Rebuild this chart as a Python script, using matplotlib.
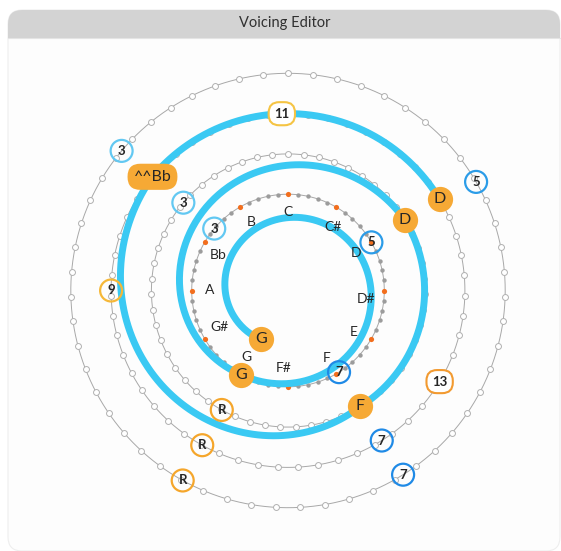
import numpy as np
import matplotlib
matplotlib.use('Agg')
import matplotlib.pyplot as plt
from matplotlib.patches import FancyBboxPatch, Rectangle

# --- Canvas (pixels) ---
W, H = 561, 551
DPI = 100
CX, CY = 288, 290.5      # centre of the wheel
RMAX = 240               # polar axes radius in px
R0, STEP = 56, 40.3      # radius of level 0 and spacing between octave rings
FONT = 'Lato'

# --- Data ---
PITCH_NAMES = ['C', 'C#', 'D', 'D#', 'E', 'F', 'F#', 'G', 'G#', 'A', 'Bb', 'B']
PITCH_ANGLES = [0, 35, 61, 96, 122, 150, 183, 212, 242, 270, 297, 332]

RING_LEVELS = [1, 2, 3, 4]
RING_DOTS = [60, 55, 55, 55]

# voicing notes along the spiral (angle unwrapped, clockwise from C)
NOTE_LABELS = ['G', 'G', 'D', 'F', '^^Bb', 'D']
NOTE_ANGLES = [209, 569, 779, 868, 1030, 1139]
NOTE_LEVELS = [0, 1, 2, 2, 3, 3]

# interval markers sitting on the rings
MARK_LEVELS = [1, 1, 1, 2, 2, 3, 3, 3, 3, 3, 4, 4, 4, 4]
MARK_LABELS = ['3', '5', '7', '3', 'R', '11', '9', '13', 'R', '7', '3', '5', '7', 'R']
MARK_ANGLES = [310, 60, 148, 310, 209, 358, 270, 121, 209, 148, 310, 60, 148, 209]

MARK_COLORS = {'3': '#62c8f2', '5': '#2b9ce8', '7': '#1f8ae6', 'R': '#f5a62b',
               '9': '#f6b838', '11': '#f5c444', '13': '#f29a30'}
CYAN = '#3ac9f3'
ORANGE = '#f6a935'
TEXT = '#262626'


def level_r(level):
    return R0 + STEP * level


fig = plt.figure(figsize=(W / DPI, H / DPI), dpi=DPI)
fig.patch.set_facecolor('white')

# --- Window chrome ---
bg = fig.add_axes([0, 0, 1, 1])
bg.set_xlim(0, W)
bg.set_ylim(H, 0)
bg.axis('off')
bg.add_patch(FancyBboxPatch((8, 10), W - 9, H - 10, boxstyle='round,pad=0,rounding_size=14',
                            fc='#fdfdfd', ec='#eeeeee', lw=0.8))
bg.add_patch(FancyBboxPatch((8, 10), W - 9, 28, boxstyle='round,pad=0,rounding_size=14',
                            fc='#d3d3d3', ec='none'))
bg.add_patch(Rectangle((8, 24), W - 9, 14, fc='#d3d3d3', ec='none'))
bg.plot([8, W - 1], [38, 38], color='#e4e4e4', lw=0.8)
bg.text(285, 23, 'Voicing Editor', ha='center', va='center', fontsize=10.5,
        color='#303030', family=FONT)

# --- Wheel ---
left = (CX - RMAX) / W
bottom = (H - (CY + RMAX)) / H
ax = fig.add_axes([left, bottom, 2 * RMAX / W, 2 * RMAX / H], projection='polar')
ax.set_theta_zero_location('N')
ax.set_theta_direction(-1)
ax.set_ylim(0, RMAX)
ax.axis('off')
ax.patch.set_visible(False)

# octave rings
for level, n in zip(RING_LEVELS, RING_DOTS):
    r = level_r(level)
    th = np.linspace(0, 2 * np.pi, 400)
    ax.plot(th, np.full_like(th, r), color='#a8a8a8', lw=0.7, zorder=1)
    dots = np.arange(n) * 2 * np.pi / n
    if level == 1:
        gray = dots[np.arange(n) % 5 != 0]
        orange = dots[np.arange(n) % 5 == 0]
        ax.scatter(gray, np.full_like(gray, r), s=10, color='#9c9c9c', lw=0, zorder=1.5)
        ax.scatter(orange, np.full_like(orange, r), s=14, color='#f26e1d', lw=0, zorder=1.6)
    else:
        ax.scatter(dots, np.full_like(dots, r), s=18, facecolors='white',
                   edgecolors='#b0b0b0', lw=0.7, zorder=1.5)

# spiral through the voicing notes
th_all, r_all = [], []
for i in range(len(NOTE_ANGLES) - 1):
    a0, a1 = NOTE_ANGLES[i], NOTE_ANGLES[i + 1]
    n = int(abs(a1 - a0)) + 2
    th_all.append(np.deg2rad(np.linspace(a0, a1, n)))
    r_all.append(np.linspace(level_r(NOTE_LEVELS[i]), level_r(NOTE_LEVELS[i + 1]), n))
ax.plot(np.concatenate(th_all), np.concatenate(r_all), color=CYAN, lw=5,
        solid_capstyle='round', zorder=3)

# pitch names inside the first ring (drawn over the spiral)
for name, ang in zip(PITCH_NAMES, PITCH_ANGLES):
    ax.text(np.deg2rad(ang), 78, name, ha='center', va='center', fontsize=10,
            color=TEXT, family=FONT, zorder=3.5)

# interval markers
for level, lab, ang in zip(MARK_LEVELS, MARK_LABELS, MARK_ANGLES):
    th, r = np.deg2rad(ang), level_r(level)
    col = MARK_COLORS[lab]
    if len(lab) > 1:
        ax.text(th, r, lab, ha='center', va='center', fontsize=9.5, color=TEXT,
                family=FONT, weight='bold', zorder=5,
                bbox=dict(boxstyle='round,pad=0.42,rounding_size=0.8', fc='white',
                          ec=col, lw=1.5))
    else:
        ax.scatter([th], [r], s=250, facecolors='none', edgecolors=col, lw=1.6, zorder=4)
        ax.text(th, r, lab, ha='center', va='center', fontsize=9.5, color=TEXT,
                family=FONT, weight='bold', zorder=5)

# voicing note markers
for lab, ang, level in zip(NOTE_LABELS, NOTE_ANGLES, NOTE_LEVELS):
    th, r = np.deg2rad(ang), level_r(level)
    if len(lab) > 1:
        ax.text(th, r, lab, ha='center', va='center', fontsize=11.5, color=TEXT,
                family=FONT, zorder=7,
                bbox=dict(boxstyle='round,pad=0.38,rounding_size=0.8', fc=ORANGE,
                          ec='none'))
    else:
        ax.scatter([th], [r], s=330, color=ORANGE, lw=0, zorder=6)
        ax.text(th, r, lab, ha='center', va='center', fontsize=11.5, color=TEXT,
                family=FONT, zorder=7)

fig.savefig('out.png', dpi=DPI)
